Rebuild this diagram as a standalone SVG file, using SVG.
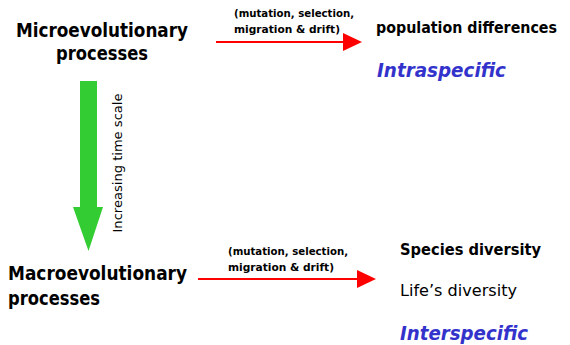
<svg xmlns="http://www.w3.org/2000/svg" width="570" height="345" viewBox="0 0 570 345">
<style>
text { font-family: "Comic Sans MS", "DejaVu Sans", sans-serif; fill: #000; }
.big { font-size: 19px; font-weight: bold; }
.lbl { font-size: 10.5px; font-weight: bold; }
.res { font-size: 15px; }
.b { font-weight: bold; }
.cls { font-size: 19px; font-weight: bold; font-style: italic; fill: #3333cc; }
.red { stroke: #ff0000; stroke-width: 2; fill: none; }
.redhead { fill: #ff0000; }
</style>
<rect width="570" height="345" fill="#fff"/>
<g id="micro">
  <text class="big" x="102" y="37" text-anchor="middle" textLength="172" lengthAdjust="spacingAndGlyphs">Microevolutionary</text>
  <text class="big" x="102" y="60" text-anchor="middle" textLength="92" lengthAdjust="spacingAndGlyphs">processes</text>
</g>
<g id="macro">
  <text class="big" x="8" y="280" textLength="179" lengthAdjust="spacingAndGlyphs">Macroevolutionary</text>
  <text class="big" x="8" y="305" textLength="92" lengthAdjust="spacingAndGlyphs">processes</text>
</g>
<g id="intra">
  <text class="res b" x="376" y="33" textLength="181" lengthAdjust="spacingAndGlyphs">population differences</text>
  <text class="cls" x="377" y="77" textLength="129" lengthAdjust="spacingAndGlyphs">Intraspecific</text>
</g>
<g id="inter">
  <text class="res b" x="400" y="255" textLength="141" lengthAdjust="spacingAndGlyphs">Species diversity</text>
  <text class="res" x="400" y="296" textLength="117" lengthAdjust="spacingAndGlyphs">Life’s diversity</text>
  <text class="cls" x="400" y="340" textLength="128" lengthAdjust="spacingAndGlyphs">Interspecific</text>
</g>
<g id="connectors">
  <line class="red" x1="216" y1="42" x2="345" y2="42"/>
  <polygon class="redhead" points="343,33 362,42 343,51"/>
  <text class="lbl" x="234" y="17" textLength="120" lengthAdjust="spacingAndGlyphs">(mutation, selection,</text>
  <text class="lbl" x="234" y="33" textLength="106" lengthAdjust="spacingAndGlyphs">migration &amp; drift)</text>
  <line class="red" x1="198" y1="279" x2="359" y2="279"/>
  <polygon class="redhead" points="357,270 376,279 357,288"/>
  <text class="lbl" x="228" y="255" textLength="120" lengthAdjust="spacingAndGlyphs">(mutation, selection,</text>
  <text class="lbl" x="228" y="271" textLength="106" lengthAdjust="spacingAndGlyphs">migration &amp; drift)</text>
  <polygon fill="#33cc33" points="80,81 97,81 97,207 103,207 88.5,251 73,207 80,207"/>
  <text font-size="12.5" x="0" y="0" transform="translate(122,163) rotate(-90)" text-anchor="middle" textLength="139" lengthAdjust="spacingAndGlyphs">Increasing time scale</text>
</g>
</svg>
